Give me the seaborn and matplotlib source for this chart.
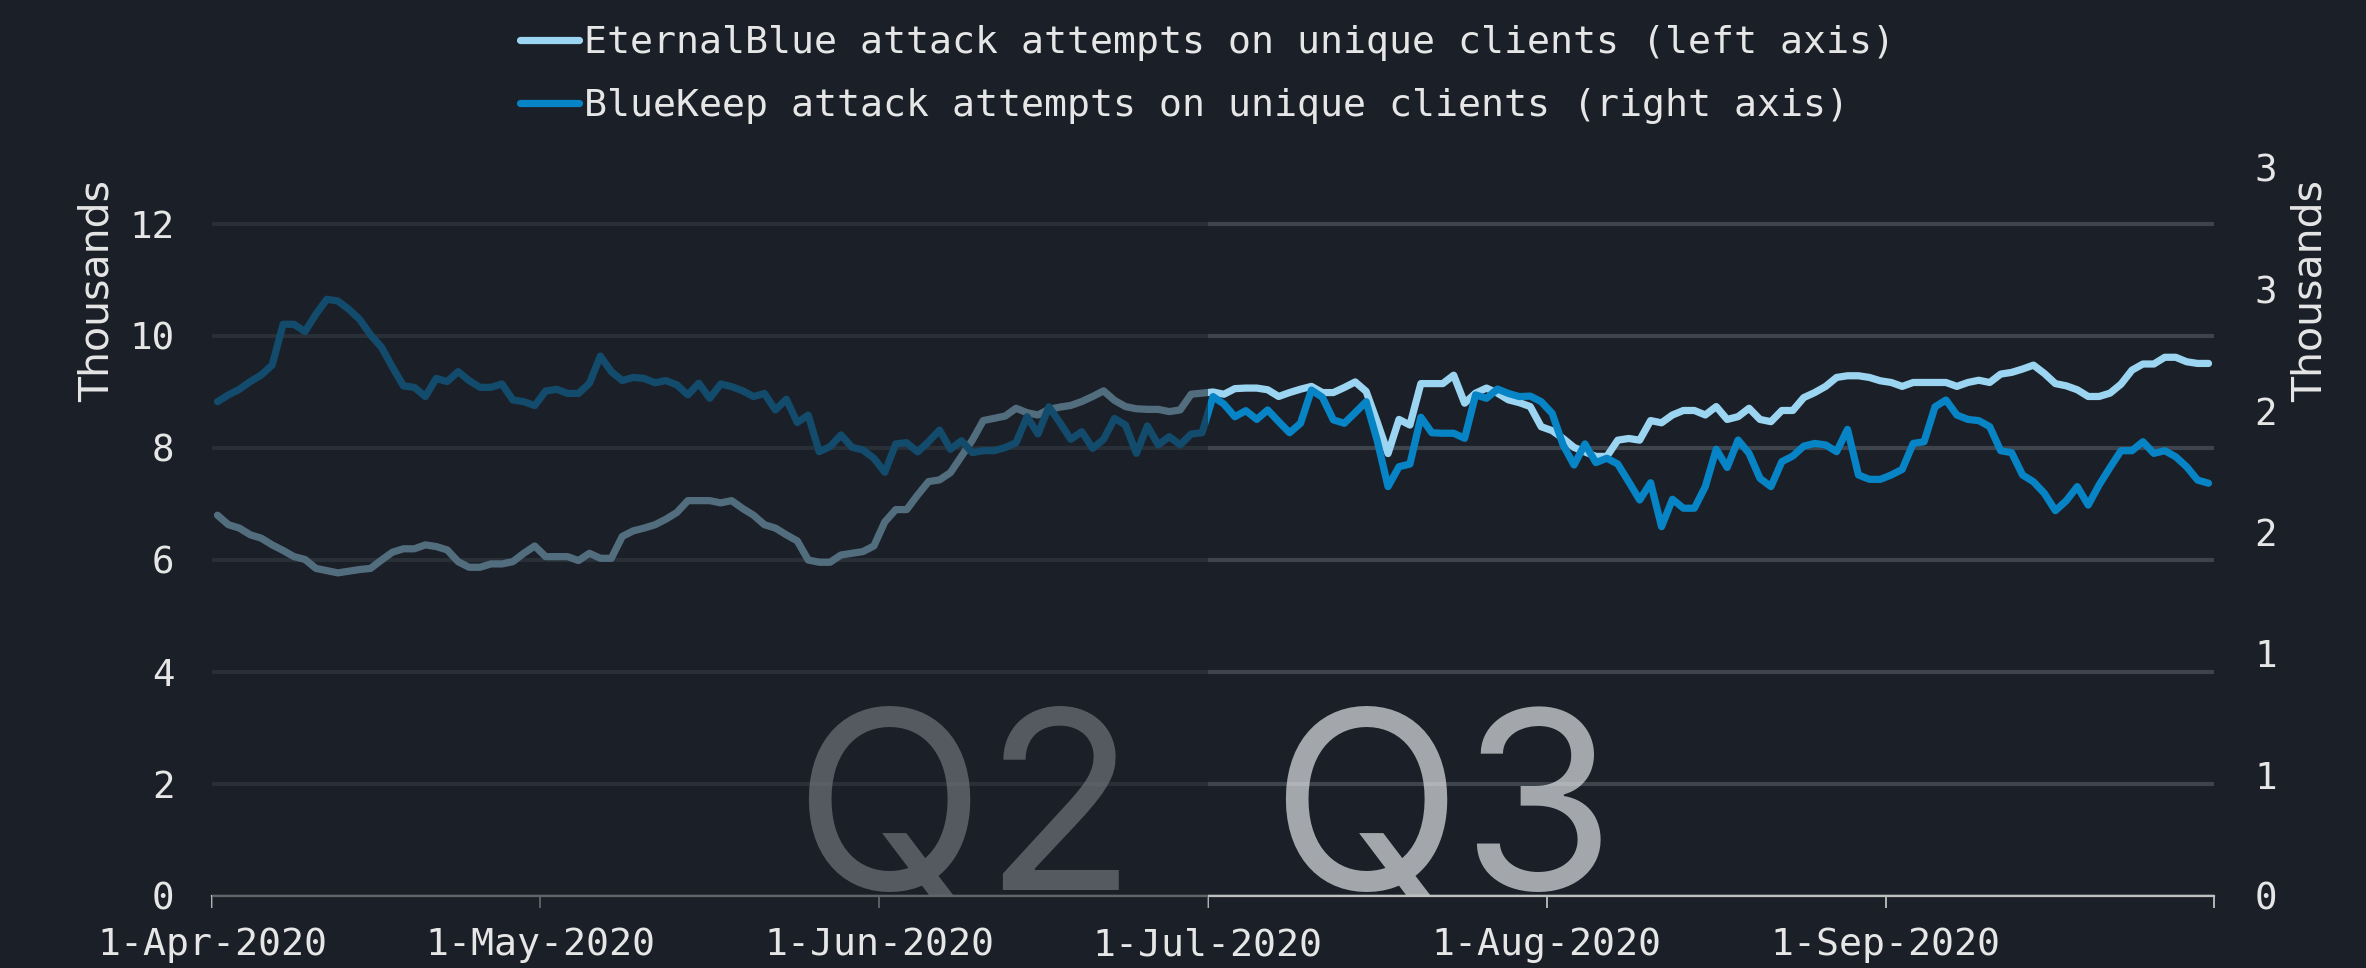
import numpy as np
import pandas as pd
import matplotlib
matplotlib.use("Agg")
import matplotlib.pyplot as plt
import seaborn as sns
from matplotlib.lines import Line2D

# ---------------- data (daily, 1-Apr-2020 .. 30-Sep-2020) ----------------
start_date = "2020-04-01"

eternalblue_clients = [
    6800, 6630, 6570, 6450, 6390, 6270, 6170, 6060, 6010, 5850,
    5810, 5770, 5800, 5830, 5850, 6000, 6140, 6200, 6200, 6270,
    6240, 6180, 5970, 5870, 5870, 5930, 5930, 5970, 6120, 6250,
    6060, 6060, 6060, 5990, 6120, 6030, 6030, 6420, 6520, 6570,
    6630, 6730, 6850, 7060, 7060, 7060, 7020, 7060, 6920, 6800,
    6630, 6570, 6450, 6340, 6000, 5960, 5960, 6090, 6120, 6150,
    6250, 6680, 6900, 6900, 7160, 7400, 7430, 7560, 7850, 8140,
    8490, 8530, 8570, 8710, 8630, 8590, 8690, 8730, 8760, 8830,
    8920, 9020, 8850, 8740, 8700, 8690, 8690, 8650, 8680, 8960,
    8980, 9000, 8960, 9060, 9070, 9070, 9040, 8920, 8990, 9050,
    9100, 8990, 8990, 9080, 9180, 9010, 8470, 7900, 8510, 8410,
    9150, 9150, 9150, 9300, 8800, 8980, 9070, 8980, 8860, 8810,
    8740, 8380, 8310, 8170, 8010, 7930, 7850, 7850, 8140, 8170,
    8140, 8490, 8450, 8590, 8670, 8670, 8590, 8740, 8510, 8560,
    8710, 8510, 8470, 8670, 8670, 8900, 8990, 9100, 9260, 9290,
    9290, 9260, 9200, 9170, 9100, 9170, 9170, 9170, 9170, 9100,
    9170, 9210, 9170, 9320, 9350, 9410, 9480, 9330, 9150, 9110,
    9040, 8920, 8920, 8980, 9140, 9390, 9500, 9500, 9620, 9620,
    9540, 9510, 9510,
]

bluekeep_clients = [
    2037, 2065, 2088, 2120, 2147, 2188, 2356, 2356, 2326, 2398,
    2459, 2452, 2418, 2376, 2312, 2261, 2179, 2102, 2096, 2058,
    2133, 2120, 2161, 2124, 2096, 2096, 2110, 2044, 2037, 2021,
    2081, 2088, 2071, 2071, 2113, 2225, 2161, 2124, 2137, 2133,
    2115, 2124, 2106, 2065, 2113, 2051, 2110, 2099, 2082, 2058,
    2071, 2003, 2047, 1951, 1982, 1831, 1852, 1900, 1849, 1838,
    1804, 1746, 1863, 1868, 1830, 1872, 1920, 1841, 1876, 1827,
    1835, 1835, 1848, 1868, 1975, 1904, 2016, 1951, 1882, 1913,
    1845, 1882, 1968, 1941, 1824, 1937, 1859, 1893, 1859, 1904,
    1909, 2058, 2027, 1975, 2000, 1964, 2003, 1955, 1909, 1948,
    2085, 2055, 1962, 1948, 1992, 2037, 1879, 1687, 1769, 1780,
    1973, 1909, 1907, 1907, 1886, 2065, 2051, 2089, 2071, 2058,
    2060, 2037, 1989, 1859, 1776, 1863, 1786, 1804, 1780, 1707,
    1632, 1703, 1522, 1635, 1598, 1598, 1687, 1841, 1766, 1879,
    1824, 1721, 1687, 1790, 1813, 1854, 1865, 1859, 1831, 1923,
    1735, 1717, 1717, 1735, 1758, 1865, 1872, 2016, 2044, 1982,
    1964, 1959, 1934, 1835, 1827, 1735, 1707, 1659, 1588, 1629,
    1687, 1611, 1694, 1766, 1835, 1835, 1872, 1824, 1835, 1810,
    1769, 1714, 1701,
]

month_ticks = ["2020-04-01", "2020-05-01", "2020-06-01", "2020-07-01",
               "2020-08-01", "2020-09-01", "2020-10-01"]
month_labels = ["1-Apr-2020", "1-May-2020", "1-Jun-2020", "1-Jul-2020",
                "1-Aug-2020", "1-Sep-2020", ""]
left_ticks = [0, 2, 4, 6, 8, 10, 12]
left_labels = ["0", "2", "4", "6", "8", "10", "12"]
right_ticks = [0.0, 0.5, 1.0, 1.5, 2.0, 2.5, 3.0]
right_labels = ["0", "1", "1", "2", "2", "3", "3"]
legend_labels = ["EternalBlue attack attempts on unique clients (left axis)",
                 "BlueKeep attack attempts on unique clients (right axis)"]
axis_title = "Thousands"
quarter_labels = ["Q2", "Q3"]
q2_span = ["2020-04-01", "2020-07-01"]

# ---------------- style ----------------
BG = "#1B2028"
GRID = "#3D444C"
EB_COLOR = "#9CD5F1"
BK_COLOR = "#0784C6"
TEXT = "#E6E6E6"
MONO = ["DejaVu Sans Mono", "DejaVu Sans"]
LW = 5.2

sns.set_theme(style="dark", rc={"axes.facecolor": BG, "figure.facecolor": BG})
plt.rcParams["font.family"] = MONO

fig = plt.figure(figsize=(23.66, 9.68), dpi=100)
fig.patch.set_facecolor(BG)
ax = fig.add_axes([212 / 2366, 1 - 896 / 968, 2002 / 2366, (896 - 168) / 968])
ax.set_facecolor(BG)
ax2 = ax.twinx()

dates = pd.date_range(start_date, periods=len(eternalblue_clients), freq="D") + pd.Timedelta(hours=12)
df = pd.DataFrame({
    "date": dates,
    "eb": np.array(eternalblue_clients) / 1000.0,
    "bk": np.array(bluekeep_clients) / 1000.0,
})

line_kw = dict(linewidth=LW, solid_joinstyle="round", solid_capstyle="round")
sns.lineplot(data=df, x="date", y="eb", ax=ax, color=EB_COLOR, zorder=3, **line_kw)
sns.lineplot(data=df, x="date", y="bk", ax=ax2, color=BK_COLOR, zorder=3, **line_kw)

# axes limits
xmin, xmax = pd.Timestamp(month_ticks[0]), pd.Timestamp(month_ticks[-1])
ax.set_xlim(xmin, xmax)
ax.set_ylim(0, 13)
ax2.set_ylim(0, 3.0)

# ticks
ax.set_xticks([pd.Timestamp(t) for t in month_ticks])
ax.set_xticklabels(month_labels)
ax.set_yticks(left_ticks)
ax.set_yticklabels(left_labels)
ax2.set_yticks(right_ticks)
ax2.set_yticklabels(right_labels)

ax.tick_params(axis="x", which="both", bottom=True, length=8.6, width=1.3,
               color="#BFBFBF", pad=14, labelsize=27.5, labelcolor=TEXT)
ax.tick_params(axis="y", length=0, pad=27, labelsize=27, labelcolor=TEXT)
ax2.tick_params(axis="y", length=0, pad=29, labelsize=27, labelcolor=TEXT)

ax.set_xlabel("")
ax.set_ylabel("")
ax2.set_ylabel("")

# grid and spines
ax.set_axisbelow(True)
ax.yaxis.grid(True, color=GRID, linewidth=3)
ax.xaxis.grid(False)
ax2.grid(False)
for s in ["left", "right", "top"]:
    ax.spines[s].set_visible(False)
for s in ax2.spines.values():
    s.set_visible(False)
ax.spines["bottom"].set_visible(True)
ax.spines["bottom"].set_color("#BFBFBF")
ax.spines["bottom"].set_linewidth(1.6)

# big quarter labels (x in axes fraction, y in data units), clipped at the x axis
for lab, xf in zip(quarter_labels, [0.376, 0.615]):
    ax.text(xf, 0.12, lab, transform=ax.get_yaxis_transform(), fontsize=180,
            family=["Inter", "DejaVu Sans"], color="#EBEDF0", alpha=0.66,
            ha="center", va="baseline", zorder=1.5, clip_on=True)

# dimming overlay on Q2
ax2.axvspan(pd.Timestamp(q2_span[0]), pd.Timestamp(q2_span[1]), ymin=-0.02, ymax=1.0,
            facecolor=BG, edgecolor="none", alpha=0.57, zorder=10, clip_on=False)

# axis titles
fig.text(98 / 2366, 1 - 291 / 968, axis_title, rotation=90, ha="center", va="center",
         fontsize=29.5, family=["DejaVu Sans"], color=TEXT)
fig.text(2311 / 2366, 1 - 291 / 968, axis_title, rotation=90, ha="center", va="center",
         fontsize=29.5, family=["DejaVu Sans"], color=TEXT)

# legend
handles = [Line2D([0], [0], color=EB_COLOR, linewidth=LW, solid_capstyle="round"),
           Line2D([0], [0], color=BK_COLOR, linewidth=LW, solid_capstyle="round")]
leg = fig.legend(handles, legend_labels, loc="upper left",
                 bbox_to_anchor=(520 / 2366, 1 - 25 / 968), frameon=False,
                 fontsize=27.5, handlelength=1.55, handletextpad=0.12,
                 labelspacing=0.72, borderpad=0, borderaxespad=0)
for t in leg.get_texts():
    t.set_color(TEXT)

fig.savefig("out.png", dpi=100, facecolor=BG)
